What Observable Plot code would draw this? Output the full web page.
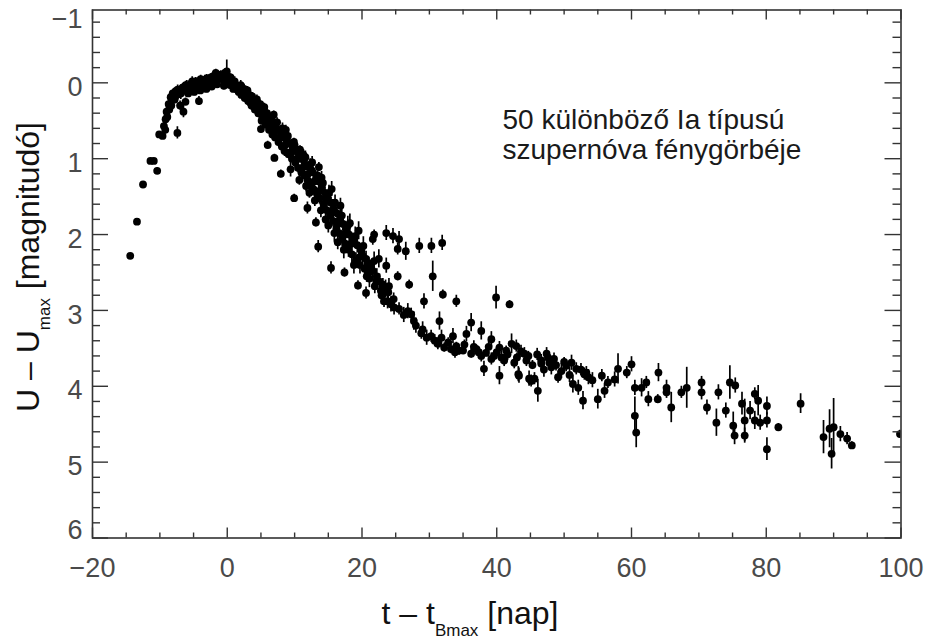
<!DOCTYPE html>
<html><head><meta charset="utf-8">
<script src="https://cdn.jsdelivr.net/npm/d3@7"></script>
<script src="https://cdn.jsdelivr.net/npm/@observablehq/plot@0.6"></script>
<style>body{margin:0;background:#fff} svg{display:block}</style>
</head><body><div id="chart"></div>
<script>
// Axis ticks and labels
const xTicks = [-20, 0, 20, 40, 60, 80, 100];
const xMinor = [-15,-10,-5,5,10,15,25,30,35,45,50,55,65,70,75,85,90,95];
const yTicks = [-1, 0, 1, 2, 3, 4, 5, 6];
const yMinor = [-0.8,-0.6,-0.4,-0.2,0.2,0.4,0.6,0.8,1.2,1.4,1.6,1.8,2.2,2.4,2.6,2.8,3.2,3.4,3.6,3.8,4.2,4.4,4.6,4.8,5.2,5.4,5.6,5.8];
const noteLines = ["50 különböző Ia típusú", "szupernóva fénygörbéje"];

// Light-curve points: [t - tBmax (days), U - Umax (mag), error (mag)]
const rise = [
 [-14.4,2.28,0.03],[-13.4,1.83,0.03],[-12.5,1.34,0.03],[-11.4,1.03,0.03],[-10.9,1.03,0.03],[-10.4,1.16,0.04],
 [-10.1,0.68,0.04],[-9.6,0.70,0.04],[-7.4,0.66,0.08],[-4.2,0.24,0.06],
 [-9.4,0.57,0.05],[-9.2,0.62,0.05],[-9.15,0.48,0.05],[-9.0,0.38,0.08],[-8.9,0.45,0.06],[-8.7,0.28,0.05],
 [-8.6,0.35,0.1],[-8.4,0.19,0.05],[-8.3,0.30,0.06],[-8.1,0.14,0.05],[-8.0,0.22,0.08],[-7.8,0.22,0.05],
 [-7.7,0.18,0.06],[-7.66,0.11,0.05],[-7.36,0.09,0.06],[-7.2,0.15,0.05],[-7.0,0.30,0.06],[-6.9,0.14,0.08],
 [-6.8,0.08,0.05],[-6.6,0.06,0.05],[-6.5,0.38,0.08],[-6.3,0.10,0.06],[-6.2,0.25,0.05]
];
const peak = [
 [-6.17,0.03,0.05],[-6.0,0.05,0.08],[-5.8,0.14,0.05],[-5.7,0.07,0.05],[-5.5,0.06,0.06],[-5.4,0.01,0.05],
 [-5.2,-0.02,0.06],[-5.0,0.03,0.05],[-4.9,0.12,0.05],[-4.8,0.05,0.07],[-4.7,-0.02,0.05],[-4.5,0.0,0.06],
 [-4.24,0.02,0.05],[-4.0,0.10,0.05],[-3.94,-0.05,0.05],[-3.8,0.02,0.06],[-3.5,-0.02,0.05],[-3.3,-0.04,0.06],
 [-3.1,0.08,0.05],[-3.05,-0.06,0.05],[-2.9,0.0,0.05],[-2.75,-0.01,0.06],[-2.45,-0.07,0.05],[-2.3,0.05,0.05],
 [-2.2,-0.03,0.06],[-2.0,-0.09,0.05],[-1.8,-0.08,0.06],[-1.7,-0.13,0.05],[-1.5,0.02,0.05],[-1.4,-0.06,0.06],
 [-1.2,-0.10,0.05],[-0.97,-0.10,0.06],[-0.8,-0.05,0.05],[-0.67,-0.05,0.06],[-0.5,0.04,0.05],[-0.37,-0.13,0.05],
 [-0.3,-0.08,0.06],[-0.07,-0.15,0.15],[0.0,-0.03,0.05]
];
const decline = [
 [0.2,-0.02,0.05],[0.5,-0.07,0.05],[0.8,0.01,0.06],[1.3,0.05,0.05],[1.5,0.09,0.05],[2.0,0.03,0.06],
 [2.3,0.12,0.05],[2.7,0.14,0.05],[3.2,0.20,0.06],[3.5,0.17,0.05],[3.8,0.25,0.05],[4.2,0.27,0.06],
 [4.7,0.33,0.05],[5.0,0.38,0.05],[5.3,0.35,0.06],[5.6,0.42,0.05],[6.0,0.47,0.05],[6.5,0.50,0.06],
 [6.8,0.56,0.05],[7.2,0.55,0.06],[7.5,0.62,0.05],[8.0,0.66,0.06],[8.4,0.72,0.05],[8.8,0.76,0.06],
 [9.3,0.80,0.05],[9.7,0.86,0.06],[10.2,0.90,0.05],[10.6,0.93,0.07],[10.9,1.00,0.05],[11.4,1.03,0.06],
 [11.8,1.10,0.05],[12.3,1.08,0.08],[12.7,1.18,0.05],[13.2,1.25,0.06],[13.6,1.30,0.07],[14.0,1.38,0.05],
 [14.5,1.45,0.08],[14.9,1.50,0.06],[15.4,1.58,0.07],[15.8,1.66,0.08],[16.3,1.72,0.06],[16.7,1.80,0.1],
 [17.2,1.86,0.07],[17.6,1.93,0.08],[18.1,2.00,0.1],[18.7,2.08,0.08],[19.3,2.14,0.1],[19.9,2.22,0.08],
 [20.6,2.32,0.1],[21.3,2.42,0.08],[22.2,2.55,0.1],[23.1,2.66,0.08],[23.9,2.76,0.1],[24.7,2.85,0.08],
 [0.4,0.03,0.05],[0.9,0.08,0.05],[1.1,-0.02,0.06],[1.7,0.12,0.05],[1.9,0.06,0.05],[2.5,0.08,0.06],
 [2.9,0.18,0.05],[3.0,0.10,0.05],[3.4,0.26,0.06],[3.7,0.18,0.05],[4.0,0.30,0.05],[4.4,0.22,0.06],
 [4.9,0.28,0.05],[5.2,0.45,0.06],[5.5,0.32,0.05],[5.9,0.40,0.06],[6.3,0.58,0.05],[6.6,0.45,0.06],
 [7.0,0.64,0.05],[7.4,0.52,0.06],[7.8,0.72,0.05],[8.2,0.60,0.07],[8.6,0.82,0.05],[9.0,0.70,0.06],
 [9.5,0.92,0.06],[9.9,0.78,0.05],[10.4,1.00,0.07],[10.8,0.88,0.05],[11.1,1.12,0.06],[11.6,0.98,0.08],
 [12.0,1.20,0.06],[12.5,1.15,0.07],[12.9,1.30,0.08],[13.4,1.22,0.06],[13.8,1.42,0.07],[14.2,1.32,0.08],
 [14.7,1.55,0.07],[15.1,1.45,0.1],[15.6,1.70,0.08],[16.0,1.58,0.1],[16.5,1.85,0.08],[17.0,1.75,0.12],
 [17.4,2.00,0.1],[17.9,1.88,0.12],[18.4,2.12,0.1],[19.0,2.02,0.12],[19.6,2.30,0.1],[20.2,2.15,0.12],
 [21.0,2.50,0.1],[21.8,2.35,0.12],[22.6,2.62,0.1],[23.5,2.72,0.12],[24.3,2.92,0.1]
];
const declineSpread = [
 [2.1,0.16,0.05],[2.6,0.20,0.05],[3.1,0.24,0.05],[3.6,0.30,0.06],[4.1,0.35,0.05],[4.6,0.40,0.06],
 [5.1,0.50,0.05],[5.7,0.55,0.06],[6.2,0.62,0.05],[6.7,0.68,0.06],[7.1,0.72,0.05],[7.6,0.78,0.06],
 [8.1,0.84,0.05],[8.5,0.90,0.07],[9.1,0.94,0.06],[9.6,1.00,0.05],[10.1,1.05,0.07],[10.5,1.12,0.06],
 [11.0,1.18,0.07],[11.5,1.22,0.06],[11.9,1.28,0.08],[12.4,1.35,0.07],[12.8,1.40,0.08],[13.3,1.46,0.07],
 [13.7,1.52,0.08],[14.3,1.60,0.1],[14.8,1.68,0.08],[15.3,1.75,0.1],[15.7,1.82,0.08],[16.2,1.92,0.1],
 [16.6,1.98,0.12],[17.1,2.06,0.1],[17.5,2.12,0.12],[18.0,2.20,0.1],[18.5,2.26,0.12],[19.1,2.34,0.1],
 [19.7,2.40,0.12],[20.4,2.45,0.1],[21.1,2.58,0.12],[21.9,2.68,0.1],[22.9,2.80,0.12],[23.8,2.88,0.1],
 [6.9,0.42,0.05],[8.7,0.62,0.06],[10.0,0.82,0.06],[11.3,0.95,0.07],[12.6,1.05,0.08],[14.0,1.25,0.08],
 [15.5,1.40,0.1],[16.8,1.62,0.1],[18.2,1.85,0.12],[19.5,1.95,0.12],
 [10.7,1.28,0.07],[11.7,1.36,0.08],[12.2,1.45,0.07],[13.0,1.55,0.08],[13.9,1.68,0.1],[14.6,1.80,0.08],
 [15.0,1.88,0.1],[15.9,1.98,0.12],[16.4,2.10,0.1],[17.3,2.20,0.12],[18.8,2.40,0.12]
];
const fastBranch = [
 [5.0,0.61,0.05],[6.0,0.82,0.05],[7.0,0.99,0.05],[7.95,1.20,0.05],[9.4,1.14,0.1],[9.93,1.52,0.05],
 [10.93,0.92,0.05],[13.6,1.11,0.06],[11.9,1.65,0.08],[13.16,1.84,0.06],[13.5,2.16,0.08],[15.4,2.44,0.08],
 [17.4,2.50,0.06],[19.4,2.67,0.06],[20.6,2.77,0.08]
];
const slowBranch = [
 [21.6,2.06,0.08],[23.6,1.98,0.1],[25.5,2.06,0.1],[26.5,2.22,0.12],[28.5,2.15,0.1],[30.3,2.15,0.1],
 [31.9,2.11,0.1],[21.8,2.00,0.06],[24.6,2.02,0.1],[25.3,2.19,0.08],
 [25.3,2.55,0.06],[27.0,2.66,0.06],[30.5,2.55,0.2],[32.0,2.79,0.06],[34.0,2.88,0.08],[39.9,2.83,0.15],
 [41.9,2.92,0.05],[20.1,2.28,0.1],[21.0,2.38,0.08],[21.6,2.48,0.1],[22.5,2.32,0.12],[22.1,2.61,0.1],
 [23.6,2.41,0.1],[20.7,2.55,0.08],[22.8,2.74,0.1],[24.0,2.68,0.1]
];
const lateBand = [
 [23.27,2.88,0.08],[24.76,2.96,0.1],[26.8,3.01,0.1],[27.7,3.14,0.12],[29.0,3.25,0.1],[30.26,3.34,0.08],
 [31.5,3.14,0.12],[29.2,2.88,0.1],[31.26,3.44,0.08],[32.2,3.49,0.06],[33.2,3.51,0.06],[33.5,3.34,0.1],
 [34.4,3.53,0.06],[35.5,3.31,0.1],[36.2,3.16,0.12],[36.2,3.57,0.06],[37.7,3.27,0.12],[37.7,3.60,0.08],
 [38.1,3.77,0.1],[39.2,3.64,0.08],[39.2,3.38,0.1],[40.4,3.86,0.12],[40.4,3.49,0.08],[41.1,3.66,0.08],
 [42.2,3.44,0.13],[42.6,3.69,0.08],[43.2,3.84,0.1],[43.6,3.54,0.08],[44.8,3.90,0.1],[45.6,3.90,0.08],
 [46.1,4.06,0.15],[46.6,3.70,0.08],[47.6,3.62,0.08],
 [34.0,3.47,0.05],[35.0,3.53,0.05],[37.0,3.51,0.05],[38.4,3.56,0.05],[39.6,3.60,0.05],
 [40.7,3.62,0.08],[43.3,3.86,0.1],[44.1,3.57,0.08],[45.1,3.93,0.08],[47.4,3.57,0.08],[48.1,3.75,0.1],
 [49.1,3.88,0.08],[49.6,3.80,0.1],[41.4,3.53,0.06],[42.9,3.47,0.08],[44.7,3.60,0.06],[46.6,3.66,0.08],
 [47.8,3.69,0.06],[48.5,3.64,0.08],[50.3,3.73,0.08],[51.8,3.77,0.08],[53.3,3.82,0.08],
 [25.5,2.98,0.08],[26.2,3.06,0.1],[27.3,3.05,0.08],[28.0,3.20,0.1],[28.8,3.30,0.08],[29.6,3.36,0.1],
 [30.8,3.40,0.08],[31.8,3.36,0.1],[32.8,3.42,0.06],[33.8,3.55,0.08],[35.2,3.45,0.06],[36.6,3.48,0.08],
 [37.3,3.55,0.06],[38.8,3.48,0.08],[40.0,3.55,0.06],[41.6,3.58,0.08],[43.0,3.62,0.06],[44.4,3.66,0.08],
 [45.3,3.72,0.06],[46.0,3.58,0.08],[47.0,3.78,0.1],[48.8,3.72,0.08],[50.0,3.68,0.06],[50.8,3.85,0.1],
 [52.5,3.78,0.08],[54.2,3.92,0.1],[55.6,3.86,0.08]
];
const tail = [
 [51.1,3.69,0.1],[51.3,3.97,0.12],[52.1,4.02,0.1],[52.8,4.19,0.12],[53.0,3.84,0.08],[53.6,3.88,0.1],
 [55.0,4.17,0.13],[56.0,4.06,0.1],[56.5,3.95,0.08],[57.5,3.91,0.1],[58.0,3.77,0.2],[59.3,3.82,0.08],
 [60.0,3.71,0.1],[60.5,4.02,0.1],[60.5,4.39,0.25],[60.7,4.61,0.2],[61.5,4.02,0.12],[62.2,3.95,0.08],
 [62.5,4.17,0.1],[63.9,4.17,0.06],[64.0,3.82,0.12],[65.2,4.02,0.1],[65.2,4.08,0.08],[65.9,4.28,0.2],
 [67.4,4.08,0.08],[68.2,4.02,0.27],[70.4,3.95,0.08],[70.4,4.08,0.1],[71.2,4.28,0.1],[72.6,4.48,0.18],
 [72.9,4.08,0.1],[74.0,4.32,0.1],[74.6,3.95,0.22],[75.4,3.99,0.1],[75.1,4.52,0.18],[75.3,4.65,0.12],
 [76.4,4.23,0.15],[76.8,4.45,0.28],[76.8,4.65,0.1],[77.6,4.32,0.12],[78.3,4.10,0.08],[78.3,4.45,0.12],
 [78.8,4.19,0.2],[79.1,4.48,0.1],[80.1,4.26,0.12],[80.1,4.45,0.1],[80.1,4.83,0.15],[81.8,4.54,0.05],
 [85.1,4.23,0.13],[88.5,4.67,0.22],[89.4,4.56,0.25],[89.7,4.89,0.2],[90.0,4.54,0.38],[91.0,4.63,0.1],
 [92.0,4.69,0.08],[92.7,4.78,0.05],[99.85,4.63,0.05]
];

const points = [...rise, ...peak, ...decline, ...declineSpread, ...fastBranch, ...slowBranch, ...lateBand, ...tail]
  .map(([t, m, e]) => ({t, m, e}));

const W = 926, H = 641;
const mL = 92, mR = 25.5, mT = 9.5, mB = 103.5;
const fw = W - mL - mR, fh = H - mT - mB;
const axisColor = "#333";
const labelColor = "#4a4a4a";

const chart = Plot.plot({
  width: W, height: H,
  marginLeft: mL, marginRight: mR, marginTop: mT, marginBottom: mB,
  style: {fontFamily: "'Liberation Sans', Arial, Helvetica, sans-serif", background: "#fff"},
  x: {domain: [-20, 100], axis: null},
  y: {domain: [-0.96, 6], reverse: true, axis: null},
  marks: [
    Plot.ruleX(points, {x: "t", y1: d => d.m - d.e, y2: d => d.m + d.e, stroke: "#000", strokeWidth: 1.7, clip: true}),
    Plot.dot(points, {x: "t", y: "m", r: 3.9, fill: "#000", stroke: "none", clip: true}),
    // inward tick marks, bottom & top
    Plot.ruleX(xTicks, {x: d => d, insetTop: fh - 10, stroke: axisColor, strokeWidth: 1.4}),
    Plot.ruleX(xTicks, {x: d => d, insetBottom: fh - 10, stroke: axisColor, strokeWidth: 1.4}),
    Plot.ruleX(xMinor, {x: d => d, insetTop: fh - 5, stroke: axisColor, strokeWidth: 1.4}),
    Plot.ruleX(xMinor, {x: d => d, insetBottom: fh - 5, stroke: axisColor, strokeWidth: 1.4}),
    // inward tick marks, left & right
    Plot.ruleY(yTicks.filter(v => v >= 0), {y: d => d, insetRight: fw - 16, stroke: axisColor, strokeWidth: 1.4}),
    Plot.ruleY(yTicks.filter(v => v >= 0), {y: d => d, insetLeft: fw - 16, stroke: axisColor, strokeWidth: 1.4}),
    Plot.ruleY(yMinor, {y: d => d, insetRight: fw - 8, stroke: axisColor, strokeWidth: 1.4}),
    Plot.ruleY(yMinor, {y: d => d, insetLeft: fw - 8, stroke: axisColor, strokeWidth: 1.4}),
    Plot.frame({stroke: axisColor, strokeWidth: 1.6}),
    // tick labels
    Plot.text(xTicks, {x: d => d, frameAnchor: "bottom", dy: 30, text: d => d < 0 ? "\u2212" + Math.abs(d) : String(d), fontSize: 27, fill: labelColor, lineAnchor: "middle"}),
    Plot.text(yTicks.filter(v => v === -1), {y: d => d, frameAnchor: "left", dx: -10, dy: 12, textAnchor: "end", text: d => "\u2212" + Math.abs(d), fontSize: 27, fill: labelColor}),
    Plot.text(yTicks.filter(v => v >= 0 && v <= 5), {y: d => d, frameAnchor: "left", dx: -10, dy: 4.5, textAnchor: "end", text: d => String(d), fontSize: 27, fill: labelColor}),
    Plot.text(yTicks.filter(v => v === 6), {y: d => d, frameAnchor: "left", dx: -10, dy: -7.5, textAnchor: "end", text: d => String(d), fontSize: 27, fill: labelColor}),
    // annotation
    Plot.text([noteLines.join("\n")], {frameAnchor: "top-left", dx: 410, dy: 97.5, lineAnchor: "top", textAnchor: "start", fontSize: 28, lineHeight: 1.07, fill: "#1a1a1a"})
  ]
});

const svg = d3.select(chart);
// y-axis title
const yt = svg.append("text")
  .attr("transform", "translate(39,267) rotate(-90)")
  .attr("text-anchor", "middle")
  .attr("font-size", 32)
  .attr("fill", "#111");
yt.append("tspan").text("U \u2013 U");
yt.append("tspan").attr("dy", 11).attr("font-size", 17).text("max");
yt.append("tspan").attr("dy", -11).text(" [magnitudó]");
// x-axis title
const xt = svg.append("text")
  .attr("x", 470).attr("y", 624)
  .attr("text-anchor", "middle")
  .attr("font-size", 32)
  .attr("fill", "#111");
xt.append("tspan").text("t \u2013 t");
xt.append("tspan").attr("dy", 12).attr("font-size", 17).text("Bmax");
xt.append("tspan").attr("dy", -12).text(" [nap]");

document.getElementById("chart").append(chart);
</script>
</body></html>
